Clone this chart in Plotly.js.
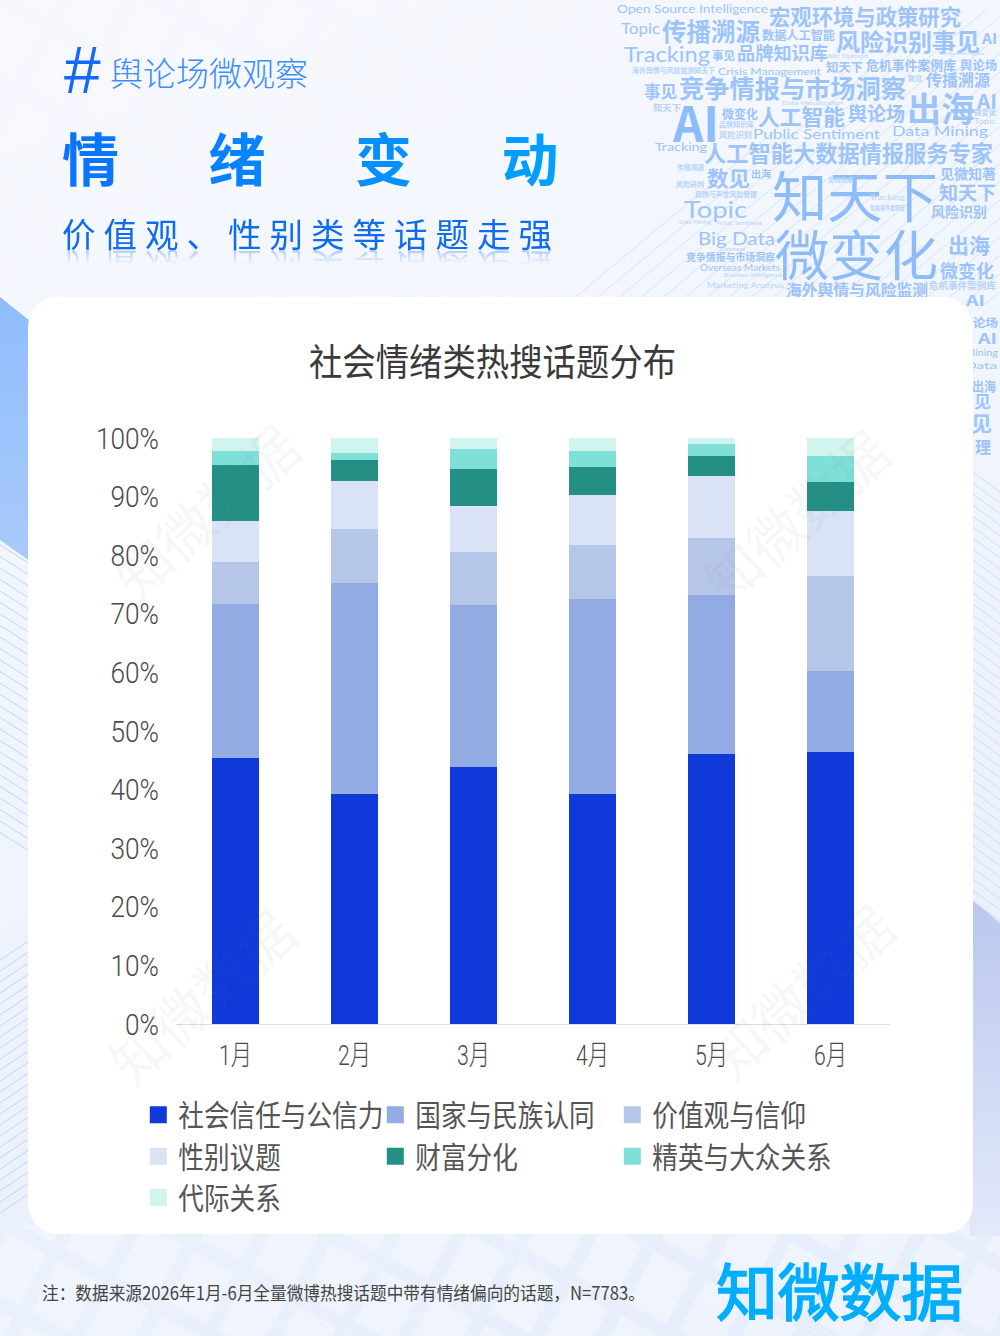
<!DOCTYPE html>
<html>
<head>
<meta charset="utf-8">
<script src="https://cdn.plot.ly/plotly-3.0.1.min.js"></script>
<style>
html,body{margin:0;padding:0}
#page{position:relative;width:1000px;height:1336px;overflow:hidden;
  background:linear-gradient(160deg,#f6f8fe 0%,#f1f5fd 40%,#e6edfb 100%);
  font-family:"Noto Sans CJK SC","Noto Sans",sans-serif}
#page>*{position:absolute}
#decor,#front{left:0;top:0}
#card{left:28px;top:297px;width:945px;height:937px;border-radius:30px;background:#fff}
#plot{left:0;top:0;width:1000px;height:1336px}
#front{pointer-events:none}
#hash{left:63px;top:32px;font:italic 400 66px "Liberation Sans";color:#1268ff}
#kicker{left:110px;top:48px;font-size:33px;line-height:48px;font-weight:300;color:#3d8dff;white-space:nowrap}
#headline{left:62px;top:116px;font-size:57px;line-height:80px;font-weight:700;letter-spacing:89.5px;white-space:nowrap;
  background:linear-gradient(90deg,#0a72ff,#00a9ff);-webkit-background-clip:text;background-clip:text;color:transparent}
#deck{left:62px;top:209px;font-size:33.5px;line-height:48px;letter-spacing:8px;color:#0f6cf0;white-space:nowrap;
  -webkit-box-reflect:below -14px linear-gradient(transparent 55%,rgba(255,255,255,.45))}
</style>
</head>
<body>
<div id="page">
  <svg id="decor" width="1000" height="1336" xmlns="http://www.w3.org/2000/svg"></svg>
  <div id="hash">#</div>
  <div id="kicker">舆论场微观察</div>
  <div id="headline">情绪变动</div>
  <div id="deck">价值观、性别类等话题走强</div>
  <div id="card"></div>
  <div id="plot"></div>
  <svg id="front" width="1000" height="1336" xmlns="http://www.w3.org/2000/svg"></svg>
</div>
<script>
var months = ["1月", "2月", "3月", "4月", "5月", "6月"];
var trust  = [45.4, 39.2, 43.9, 39.3, 46.1, 46.4];
var nation = [26.3, 36.1, 27.7, 33.2, 27.1, 13.7];
var values = [7.2, 9.2, 9.1, 9.2, 9.7, 16.2];
var gender = [6.9, 8.1, 7.8, 8.5, 10.6, 11.1];
var wealth = [9.6, 3.7, 6.3, 4.9, 3.5, 5.0];
var elite  = [2.4, 1.2, 3.4, 2.6, 2.0, 4.5];
var ages   = [2.2, 2.5, 1.9, 2.3, 1.0, 3.0];

var names  = ["社会信任与公信力", "国家与民族认同", "价值观与信仰", "性别议题", "财富分化", "精英与大众关系", "代际关系"];
var series = [trust, nation, values, gender, wealth, elite, ages];
var colors = ["#0f3ad9", "#92ace3", "#b6c6e9", "#dae2f5", "#248f85", "#7fe0d8", "#d2f4ef"];

// word cloud behind the card: text, left, right, centre y, size
var cloud = [
  ["Open Source Intelligence",617,768,8,14],["宏观环境与政策研究",769,961,15,21.5],["Topic",621,660,28,17],
  ["传播溯源",662,760,30,24.5],["数据人工智能",762,835,34,12],["风险识别事见",836,980,40,24],["AI",982,997,37,15],
  ["Tracking",624,710,54,25],["事见",712,735,55,11.5],["品牌知识库",737,828,52,18],["知天下",826,863,66,12],
  ["危机事件案例库",866,956,64,13],["舆论场",960,997,64,12],["海外舆情与风险监测知天下",632,715,70,7],
  ["Crisis Management",718,821,71,11.5],["事见",644,677,91,16.5],["竞争情报与市场洞察",679,906,87,25],["数见",908,922,78,7],
  ["传播溯源",926,990,79,16],["出海",907,975,107,34],["AI",977,997,100,20],["知天下",653,681,107,9],["AI",673,719,121,48],
  ["微变化",722,758,113,12],["人工智能",758,845,115,22],["舆论场",848,905,112,19],["Public Sentiment",753,880,134,16],
  ["Data Mining",892,988,131,16],["品牌知识库",719,754,124,7],["风险识别",719,752,134,8],["Tracking",655,707,146,13],
  ["人工智能大数据情报服务专家",704,993,152,22.3],["数见",707,750,177,21],["出海",751,771,173,10],["知天下",772,938,193,55],
  ["见微知著",940,996,173,14],["知天下",939,996,191,19],["Topic",684,747,209,26],["风险识别",931,987,211,14],
  ["Big Data",698,775,238,20],["微变化",775,938,252,54],["出海",948,990,244,21],["竞争情报与市场洞察",686,775,256,10],
  ["微变化",940,994,270,18],["Overseas Markets",700,780,268,10],["Marketing Analysis",707,784,285,9],
  ["海外舆情与风险监测",786,928,289,15.8],["危机事件案例库",929,996,285,9.5],["AI",966,985,300,14],["舆论场",960,998,322,11],
  ["AI",978,997,337,15],["Mining",965,998,353,10],["Data",965,997,365,12],["出海",972,996,385,13],["见",974,991,400,17],
  ["见",971,992,422,21],["理",975,991,446,16],
  ["舆情与声誉风险管理",695,757,194,7],["传播溯源",677,704,167,6.5],["风险研判",676,704,184,6.5],
  ["Data Mining",679,711,222,6],["Public Sentiment",717,762,223,6],["Overseas",720,745,248,7],
  ["Business Intelligence",724,782,275,6],["Data Visualization",782,843,103,6],["Public Opinion",820,868,56,6],
  ["Artificial Intelligence",941,985,53,5],["微变化",974,996,112,7],["Topic",974,996,121,9],
  ["见微知著",828,854,179,6],["危机事件案例库",870,905,207,6],["Tracking",870,905,197,8]
];

var NS = "http://www.w3.org/2000/svg";
function el(parent, tag, attrs, txt) {
  var e = document.createElementNS(NS, tag);
  for (var k in attrs) e.setAttribute(k, attrs[k]);
  if (txt) e.textContent = txt;
  parent.appendChild(e);
  return e;
}

var decor = document.getElementById("decor");
var defs = el(decor, "defs", {});
var g1 = el(defs, "linearGradient", {id: "leftBlue", x1: 0, y1: 0, x2: 0, y2: 1});
el(g1, "stop", {offset: "0", "stop-color": "#8fbdfc"});
el(g1, "stop", {offset: "1", "stop-color": "#a9cafa"});
var g2 = el(defs, "linearGradient", {id: "rightBlue", x1: 0, y1: 0, x2: 0, y2: 1});
el(g2, "stop", {offset: "0", "stop-color": "#bac7ee"});
el(g2, "stop", {offset: "1", "stop-color": "#e3e9fa"});
var pat = el(defs, "pattern", {id: "tiles", width: 58, height: 72, patternUnits: "userSpaceOnUse", patternTransform: "rotate(28)"});
el(pat, "rect", {x: 6, y: 6, width: 44, height: 58, fill: "#fff", opacity: 0.3});

el(decor, "rect", {x: 0, y: 1225, width: 1000, height: 111, fill: "url(#tiles)"});
el(decor, "rect", {x: 0, y: 0, width: 620, height: 300, fill: "url(#tiles)", opacity: 0.35});
el(decor, "polygon", {points: "0,297 30,321 30,561 0,540", fill: "url(#leftBlue)"});
el(decor, "polygon", {points: "970,898 1000,923 1000,1236 970,1236", fill: "url(#rightBlue)"});

var i;
for (i = 0; i < 28; i++) { // hatching, upper right
  el(decor, "line", {x1: 560 + i * 22, y1: 310, x2: 920 + i * 22, y2: 10, stroke: "#a9c6f5", "stroke-width": 0.7, opacity: 0.55});
}
for (i = 0; i < 26; i++) { // left edge, falling
  var y0 = 545 + i * 11.5;
  el(decor, "line", {x1: 0, y1: y0, x2: 30, y2: y0 + 19, stroke: "#bcd5fa", "stroke-width": 1});
}
for (i = 0; i < 24; i++) { // left edge, rising
  var y1 = 960 + i * 11;
  el(decor, "line", {x1: 0, y1: y1, x2: 30, y2: y1 - 20, stroke: "#bcd5fa", "stroke-width": 1});
}
for (i = 0; i < 40; i++) { // right edge above the blue panel
  var y2 = 470 + i * 11;
  el(decor, "line", {x1: 970, y1: y2, x2: 1000, y2: y2 + 22, stroke: "#cfdcf7", "stroke-width": 1});
}

cloud.forEach(function (w) {
  var latin = /[A-Za-z]/.test(w[0]) && w[0] !== "AI";
  var big = w[4] >= 40;
  el(decor, "text", {
    x: w[1], y: w[3], "dominant-baseline": "central",
    "font-size": latin ? w[4] * 0.85 : w[4],
    "font-family": latin ? "Lato, sans-serif" : '"Noto Sans CJK SC"',
    textLength: w[2] - w[1], lengthAdjust: "spacingAndGlyphs",
    "font-weight": latin || (big && w[0] !== "AI") ? 400 : 700,
    fill: big ? "#8dbcfb" : (w[4] < 10 ? "#b7d3fb" : "#9cc4fb")
  }, w[0]);
});

var traces = names.map(function (name, i) {
  return {
    type: "bar",
    name: name,
    x: months,
    y: series[i],
    marker: {color: colors[i]},
    hoverinfo: "x+y+name"
  };
});

var tickFamily = 'Roboto,"Noto Sans CJK SC",sans-serif';
var layout = {
  width: 1000,
  height: 1336,
  paper_bgcolor: "rgba(0,0,0,0)",
  plot_bgcolor: "rgba(0,0,0,0)",
  margin: {l: 176, r: 110, t: 438, b: 312},
  font: {family: tickFamily, color: "#444"},
  barmode: "stack",
  barnorm: "percent",
  bargap: 0.6,
  title: {
    text: "社会情绪类热搜话题分布",
    x: 0.4925, xanchor: "center",
    y: 0.7283, yanchor: "middle",
    font: {family: '"Noto Sans CJK SC"', size: 37, color: "#3a3a3a"}
  },
  xaxis: {
    showgrid: false, showline: true, linecolor: "#ddd", linewidth: 1,
    ticks: "outside", ticklen: 6, tickcolor: "rgba(0,0,0,0)",
    tickfont: {size: 28, color: "#4a4a4a", family: tickFamily, weight: 300}
  },
  yaxis: {
    range: [0, 100], dtick: 10, ticksuffix: "%",
    showgrid: false, zeroline: false, showline: false,
    ticks: "outside", ticklen: 10, tickcolor: "rgba(0,0,0,0)",
    tickfont: {size: 30, color: "#4a4a4a", family: tickFamily, weight: 300}
  },
  legend: {
    orientation: "h", traceorder: "normal",
    x: -0.0528, xanchor: "left", y: -0.1112, yanchor: "top",
    entrywidth: 192, entrywidthmode: "pixels",
    font: {family: '"Noto Sans CJK SC"', size: 29.5, color: "#555"},
    bgcolor: "rgba(0,0,0,0)"
  }
};

var front = document.getElementById("front");
var marks = [[205, 510], [795, 515], [200, 995], [800, 990]];
marks.forEach(function (m) {
  el(front, "text", {
    x: m[0], y: m[1], "text-anchor": "middle", "dominant-baseline": "central",
    "font-size": 56, fill: "#6a6f80", opacity: 0.05,
    transform: "rotate(-42 " + m[0] + " " + m[1] + ")"
  }, "知微数据");
});
el(front, "text", {x: 42, y: 1292, "dominant-baseline": "central", "font-size": 18.5, fill: "#444",
  textLength: 603, lengthAdjust: "spacingAndGlyphs"}, "注\uFF1A数据来源2026年1月-6月全量微博热搜话题中带有情绪偏向的话题\uFF0CN=7783。");
el(front, "text", {x: 716, y: 1289, "dominant-baseline": "central", "font-size": 62, "font-weight": 400,
  fill: "#00aeff", stroke: "#00aeff", "stroke-width": 1.6,
  textLength: 247, lengthAdjust: "spacingAndGlyphs"}, "知微数据");

// the reference's type is a narrow face: pull the texts in to its measured widths
function squeeze(selector, ratio) {
  document.querySelectorAll(selector).forEach(function (t) {
    t.setAttribute("textLength", t.getComputedTextLength() * ratio);
    t.setAttribute("lengthAdjust", "spacingAndGlyphs");
  });
}

Plotly.newPlot("plot", traces, layout, {displayModeBar: false, staticPlot: true}).then(function () {
  document.querySelectorAll(".legend .legendpoints path").forEach(function (p) {
    p.setAttribute("d", "M8.5,8.5H-8.5V-8.5H8.5Z");
  });
  var top = document.querySelector(".ytick:last-of-type text");
  squeeze(".ytick text", 63 / top.getComputedTextLength());
  squeeze(".xtick text", 33 / document.querySelector(".xtick text").getComputedTextLength());
  squeeze(".legendtext", 205 / document.querySelector(".legendtext").getComputedTextLength());
  squeeze(".gtitle", 367 / document.querySelector(".gtitle").getComputedTextLength());
});
</script>
</body>
</html>
